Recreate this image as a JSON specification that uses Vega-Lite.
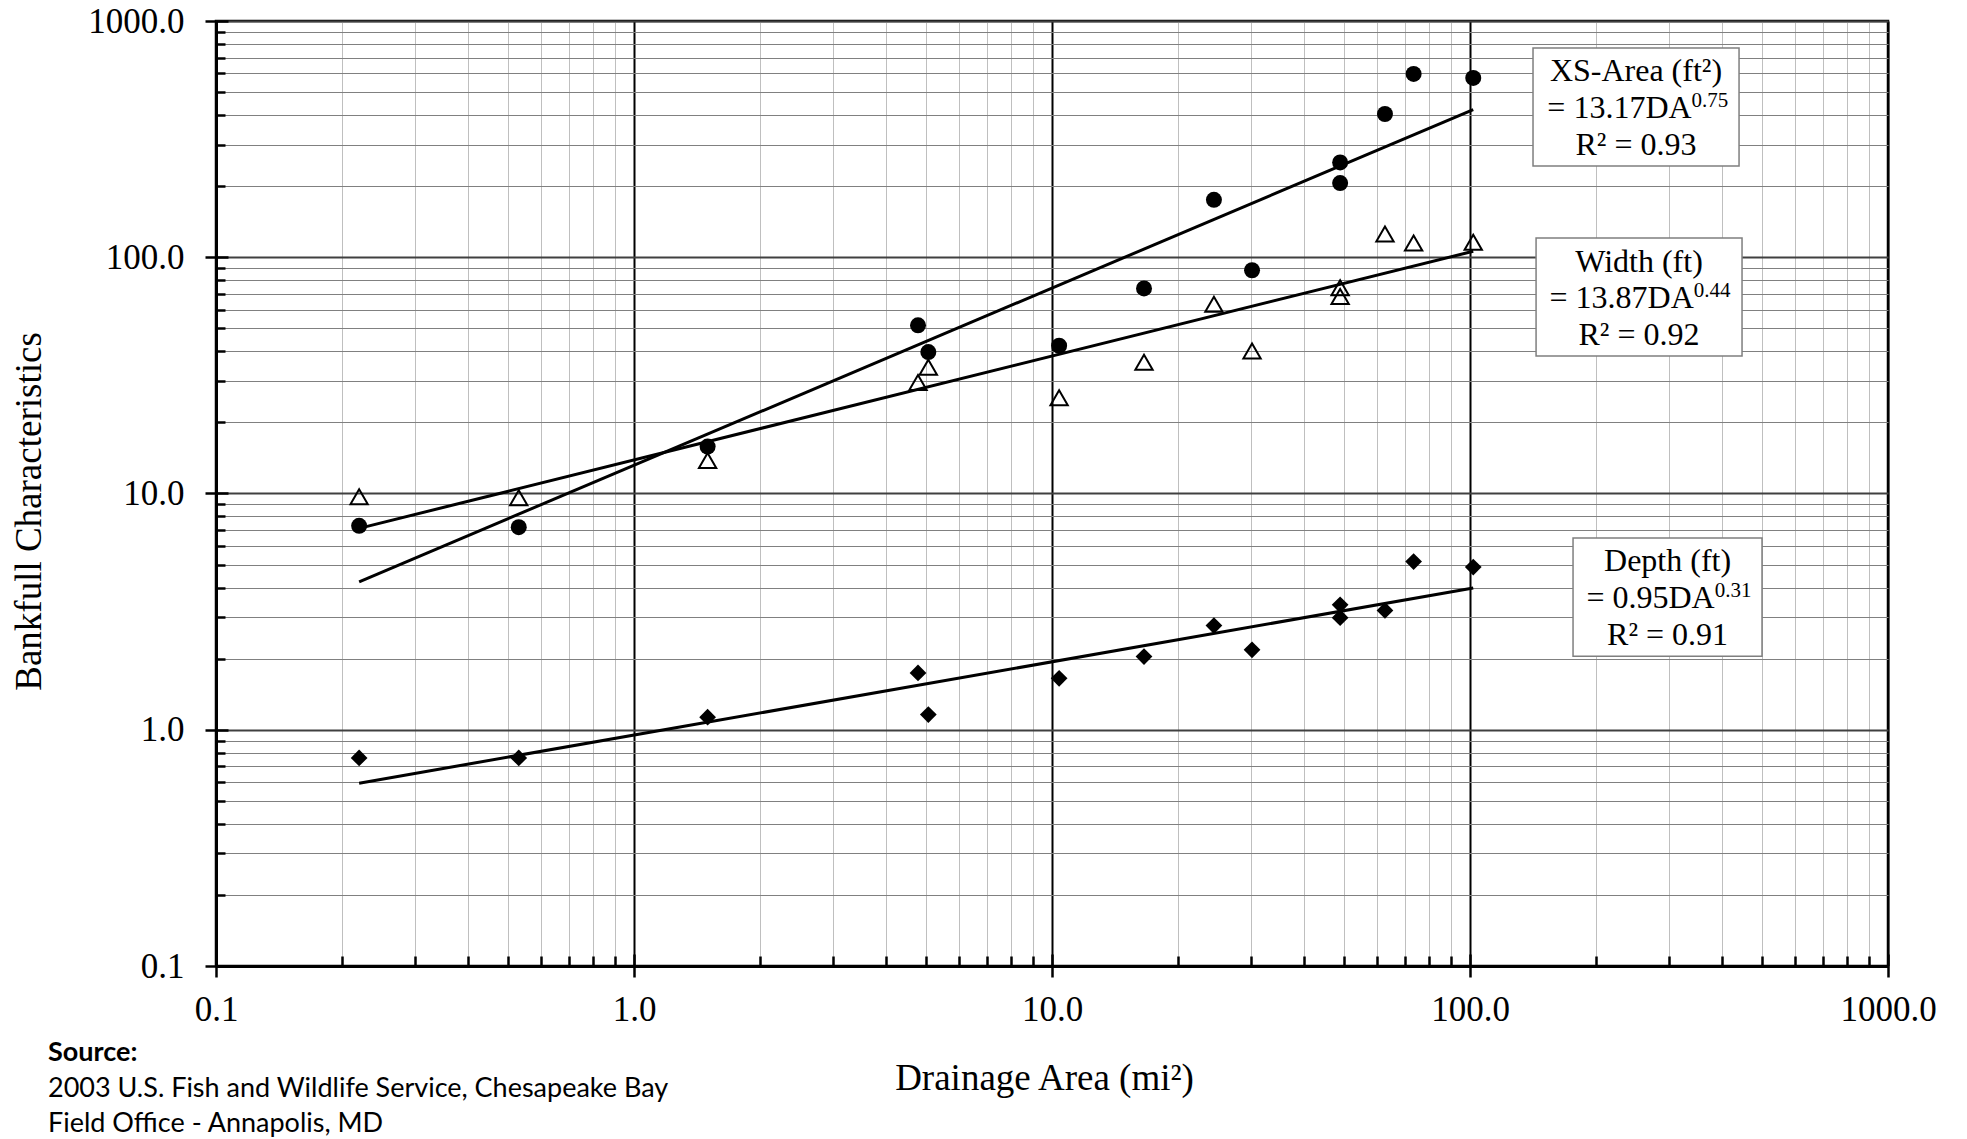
{
  "$schema": "https://vega.github.io/schema/vega-lite/v6.json",
  "width": 1672,
  "height": 945,
  "autosize": {"type": "none"},
  "padding": {"left": 216, "top": 21, "right": 79, "bottom": 173},
  "background": "white",
  "config": {
    "view": {"stroke": "black", "strokeWidth": 2.5},
    "font": "Liberation Serif"
  },
  "title": {
    "text": "Source:",
    "subtitle": ["2003 U.S. Fish and Wildlife Service, Chesapeake Bay", "Field Office - Annapolis, MD"],
    "orient": "bottom",
    "anchor": "start",
    "frame": "group",
    "font": "Lato",
    "fontSize": 27,
    "fontWeight": "bold",
    "color": "black",
    "subtitleFont": "Lato",
    "subtitleFontSize": 27,
    "subtitleFontWeight": "normal",
    "subtitleColor": "black",
    "subtitlePadding": 9,
    "subtitleLineHeight": 35,
    "dx": -168,
    "dy": -60
  },
  "datasets": {
    "sites": [
      {"da": 0.22, "xs_area": 7.3, "width": 9.7, "depth": 0.76},
      {"da": 0.53, "xs_area": 7.2, "width": 9.6, "depth": 0.76},
      {"da": 1.5, "xs_area": 15.8, "width": 13.8, "depth": 1.13},
      {"da": 4.78, "xs_area": 51.5, "width": 29.5, "depth": 1.74},
      {"da": 5.06, "xs_area": 39.7, "width": 34.2, "depth": 1.16},
      {"da": 10.4, "xs_area": 42.2, "width": 25.4, "depth": 1.65},
      {"da": 16.6, "xs_area": 73.8, "width": 35.9, "depth": 2.04},
      {"da": 24.4, "xs_area": 175, "width": 63.2, "depth": 2.76},
      {"da": 30.1, "xs_area": 88.1, "width": 40.1, "depth": 2.18},
      {"da": 48.9, "xs_area": 252, "width": 74.3, "depth": 3.38},
      {"da": 48.9, "xs_area": 206, "width": 68.2, "depth": 2.98},
      {"da": 62.6, "xs_area": 404, "width": 125.4, "depth": 3.2},
      {"da": 73.3, "xs_area": 597, "width": 115, "depth": 5.15},
      {"da": 101.8, "xs_area": 574, "width": 115.8, "depth": 4.88}
    ],
    "fits": [
      {"series": "XS-Area", "da": 0.22, "value": 4.23},
      {"series": "XS-Area", "da": 101.8, "value": 422},
      {"series": "Width", "da": 0.22, "value": 7.12},
      {"series": "Width", "da": 101.8, "value": 106.0},
      {"series": "Depth", "da": 0.22, "value": 0.594},
      {"series": "Depth", "da": 101.8, "value": 3.98}
    ],
    "boxes": [
      {"x1": 141.5, "x2": 440.2, "y1": 768.7, "y2": 243.3},
      {"x1": 143.9, "x2": 447.5, "y1": 120.6, "y2": 38.2},
      {"x1": 176.4, "x2": 499.6, "y1": 6.475, "y2": 2.049}
    ],
    "lines": [
      {"da": 249.5, "value": 557, "text": "XS-Area (ft²)"},
      {"da": 249.5, "value": 270.8, "text": "R² = 0.93"},
      {"da": 253.7, "value": 86.6, "text": "Width (ft)"},
      {"da": 253.7, "value": 42.5, "text": "R² = 0.92"},
      {"da": 296.9, "value": 4.693, "text": "Depth (ft)"},
      {"da": 296.9, "value": 2.281, "text": "R² = 0.91"}
    ],
    "equations": [
      {"da": 339.0, "value": 388.5, "text": "= 13.17DA", "exponent": "0.75"},
      {"da": 343.0, "value": 60.9, "text": "= 13.87DA", "exponent": "0.44"},
      {"da": 385.0, "value": 3.272, "text": "= 0.95DA", "exponent": "0.31"}
    ]
  },
  "resolve": {"axis": {"x": "independent", "y": "independent"}},
  "layer": [
    {
      "data": {"name": "fits"},
      "mark": {"type": "line", "color": "black", "strokeWidth": 3},
      "encoding": {
        "x": {
          "field": "da", "type": "quantitative",
          "scale": {"type": "log", "domain": [0.1, 1000], "nice": false},
          "axis": {
            "orient": "bottom",
            "values": [0.1,0.2,0.3,0.4,0.5,0.6,0.7,0.8,0.9,1,2,3,4,5,6,7,8,9,10,20,30,40,50,60,70,80,90,100,200,300,400,500,600,700,800,900,1000],
            "labelExpr": "abs(log(datum.value)/LN10 - round(log(datum.value)/LN10)) < 0.001 ? format(datum.value, '.1f') : ''",
            "labelFont": "Liberation Serif",
            "labelFontSize": 35,
            "labelColor": "black",
            "labelFlush": false,
            "labelOverlap": false,
            "labelPadding": 15,
            "domainColor": "black",
            "domainWidth": 3,
            "tickColor": "black",
            "tickWidth": 2.5,
            "tickSize": {"condition": {"test": "abs(log(datum.value)/LN10 - round(log(datum.value)/LN10)) < 0.001", "value": 11}, "value": -10},
            "grid": true,
            "gridColor": {"condition": {"test": "abs(log(datum.value)/LN10 - round(log(datum.value)/LN10)) < 0.001", "value": "black"}, "value": "#bfbfbf"},
            "gridWidth": {"condition": {"test": "abs(log(datum.value)/LN10 - round(log(datum.value)/LN10)) < 0.001", "value": 2}, "value": 1},
            "title": "Drainage Area (mi²)",
            "titleFont": "Liberation Serif",
            "titleFontSize": 37,
            "titleFontWeight": "normal",
            "titleColor": "black",
            "titleX": 828,
            "titleY": 123,
            "titleAlign": "center",
            "titleBaseline": "alphabetic"
          }
        },
        "y": {
          "field": "value", "type": "quantitative",
          "scale": {"type": "log", "domain": [0.1, 1000], "nice": false},
          "axis": {
            "orient": "left",
            "values": [0.1,0.2,0.3,0.4,0.5,0.6,0.7,0.8,0.9,1,2,3,4,5,6,7,8,9,10,20,30,40,50,60,70,80,90,100,200,300,400,500,600,700,800,900,1000],
            "labelExpr": "abs(log(datum.value)/LN10 - round(log(datum.value)/LN10)) < 0.001 ? format(datum.value, '.1f') : ''",
            "labelFont": "Liberation Serif",
            "labelFontSize": 35,
            "labelColor": "black",
            "labelFlush": false,
            "labelOverlap": false,
            "labelPadding": 21,
            "domainColor": "black",
            "domainWidth": 3,
            "tickColor": "black",
            "tickWidth": 2.5,
            "tickSize": {"condition": {"test": "abs(log(datum.value)/LN10 - round(log(datum.value)/LN10)) < 0.001", "value": 11}, "value": -9},
            "grid": true,
            "gridColor": {"condition": {"test": "abs(log(datum.value)/LN10 - round(log(datum.value)/LN10)) < 0.001", "value": "#404040"}, "value": "#808080"},
            "gridWidth": {"condition": {"test": "abs(log(datum.value)/LN10 - round(log(datum.value)/LN10)) < 0.001", "value": 2}, "value": 1},
            "title": "Bankfull Characteristics",
            "titleFont": "Liberation Serif",
            "titleFontSize": 37,
            "titleFontWeight": "normal",
            "titleColor": "black",
            "titleAngle": 270,
            "titleX": -176,
            "titleY": 490,
            "titleAlign": "center",
            "titleBaseline": "alphabetic"
          }
        },
        "detail": {"field": "series", "type": "nominal"}
      }
    },
    {
      "data": {"name": "sites"},
      "mark": {"type": "point", "shape": "circle", "filled": true, "color": "black", "opacity": 1, "size": 256},
      "encoding": {
        "x": {
          "field": "da", "type": "quantitative",
          "scale": {"type": "log", "domain": [0.1, 1000], "nice": false},
          "axis": {"orient": "bottom", "values": [0.1, 1, 10, 100, 1000], "labels": false, "grid": false, "domain": false, "title": null, "tickColor": "black", "tickWidth": 2.5, "tickSize": -12}
        },
        "y": {
          "field": "xs_area", "type": "quantitative",
          "scale": {"type": "log", "domain": [0.1, 1000], "nice": false},
          "axis": {"orient": "left", "values": [0.1, 1, 10, 100, 1000], "labels": false, "grid": false, "domain": false, "title": null, "tickColor": "black", "tickWidth": 2.5, "tickSize": -12}
        }
      }
    },
    {
      "data": {"name": "sites"},
      "mark": {"type": "point", "shape": "triangle-up", "filled": false, "stroke": "black", "strokeWidth": 2, "opacity": 1, "size": 300},
      "encoding": {
        "x": {"field": "da", "type": "quantitative", "scale": {"type": "log", "domain": [0.1, 1000], "nice": false}, "axis": null},
        "y": {"field": "width", "type": "quantitative", "scale": {"type": "log", "domain": [0.1, 1000], "nice": false}, "axis": null}
      }
    },
    {
      "data": {"name": "sites"},
      "mark": {"type": "point", "shape": "diamond", "filled": true, "color": "black", "opacity": 1, "size": 280},
      "encoding": {
        "x": {"field": "da", "type": "quantitative", "scale": {"type": "log", "domain": [0.1, 1000], "nice": false}, "axis": null},
        "y": {"field": "depth", "type": "quantitative", "scale": {"type": "log", "domain": [0.1, 1000], "nice": false}, "axis": null}
      }
    },
    {
      "data": {"name": "boxes"},
      "mark": {"type": "rect", "fill": "white", "stroke": "#7f7f7f", "strokeWidth": 1.5},
      "encoding": {
        "x": {"field": "x1", "type": "quantitative", "scale": {"type": "log", "domain": [0.1, 1000], "nice": false}, "axis": null},
        "x2": {"field": "x2"},
        "y": {"field": "y1", "type": "quantitative", "scale": {"type": "log", "domain": [0.1, 1000], "nice": false}, "axis": null},
        "y2": {"field": "y2"}
      }
    },
    {
      "data": {"name": "lines"},
      "mark": {"type": "text", "align": "center", "baseline": "alphabetic", "font": "Liberation Serif", "fontSize": 32, "color": "black"},
      "encoding": {
        "x": {"field": "da", "type": "quantitative", "scale": {"type": "log", "domain": [0.1, 1000], "nice": false}, "axis": null},
        "y": {"field": "value", "type": "quantitative", "scale": {"type": "log", "domain": [0.1, 1000], "nice": false}, "axis": null},
        "text": {"field": "text"}
      }
    },
    {
      "data": {"name": "equations"},
      "mark": {"type": "text", "align": "right", "baseline": "alphabetic", "font": "Liberation Serif", "fontSize": 32, "color": "black"},
      "encoding": {
        "x": {"field": "da", "type": "quantitative", "scale": {"type": "log", "domain": [0.1, 1000], "nice": false}, "axis": null},
        "y": {"field": "value", "type": "quantitative", "scale": {"type": "log", "domain": [0.1, 1000], "nice": false}, "axis": null},
        "text": {"field": "text"}
      }
    },
    {
      "data": {"name": "equations"},
      "mark": {"type": "text", "align": "left", "baseline": "alphabetic", "font": "Liberation Serif", "fontSize": 21, "dy": -11, "color": "black"},
      "encoding": {
        "x": {"field": "da", "type": "quantitative", "scale": {"type": "log", "domain": [0.1, 1000], "nice": false}, "axis": null},
        "y": {"field": "value", "type": "quantitative", "scale": {"type": "log", "domain": [0.1, 1000], "nice": false}, "axis": null},
        "text": {"field": "exponent"}
      }
    }
  ]
}
